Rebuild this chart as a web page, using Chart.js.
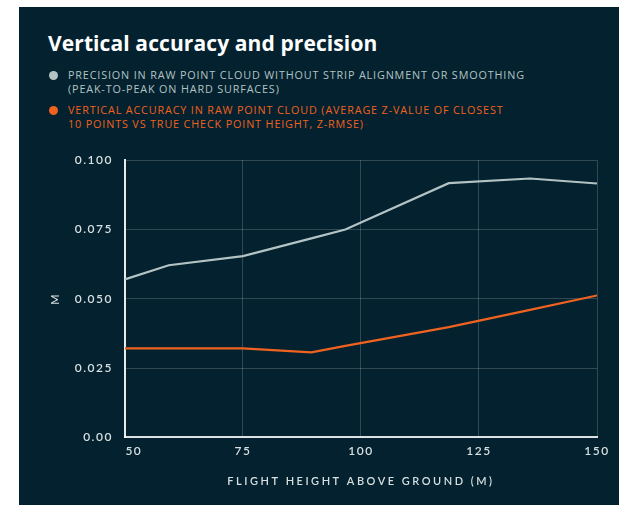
<!DOCTYPE html>
<html>
<head>
<meta charset="utf-8">
<script src="https://cdn.jsdelivr.net/npm/chart.js@4"></script>
<style>
  html, body { margin: 0; padding: 0; background: #fff; }
  #panel { position: absolute; left: 19px; top: 7px; width: 600px; height: 498px; background: #03212e; font-family: "Open Sans", Lato, sans-serif; }
  h1 { position: absolute; left: 29px; top: 22px; margin: 0; font-size: 21px; font-weight: 700; color: #fff; letter-spacing: 0.1px; }
  #legend { position: absolute; left: 30px; top: 61px; }
  .item { position: relative; padding-left: 19px; font-size: 10.8px; line-height: 14px; text-transform: uppercase; margin-bottom: 7px; width: 560px; letter-spacing: 0.85px; }
  .dot { position: absolute; left: 0; top: 3px; width: 9px; height: 9px; border-radius: 50%; }
  #wrap { position: absolute; left: 0; top: 134px; width: 600px; height: 364px; }
</style>
</head>
<body>
<div id="panel">
  <h1>Vertical accuracy and precision</h1>
  <div id="legend"></div>
  <div id="wrap"><canvas id="chart"></canvas></div>
</div>
<script>
// flight heights (m)
const heights = [50, 59.3, 75, 89.5, 96.7, 118.6, 135.8, 150];
// precision, peak-to-peak (m)
const precision = [0.057, 0.0621, 0.0654, 0.0718, 0.075, 0.0917, 0.0934, 0.0916];
// vertical accuracy, z-rmse (m)
const accuracy = [0.0321, 0.0321, 0.0321, 0.0307, 0.0330, 0.0398, 0.0460, 0.0512];
const yTicks = [0, 0.025, 0.05, 0.075, 0.1];
const xTicks = [50, 75, 100, 125, 150];
const seriesNames = [
  ['Precision in raw point cloud without strip alignment or smoothing', '(peak-to-peak on hard surfaces)'],
  ['Vertical accuracy in raw point cloud (average z-value of closest', '10 points vs true check point height, z-RMSE)']
];
const seriesColors = ['#b3c3c4', '#f0621f'];

// legend in html, two lines per item
const legend = document.getElementById('legend');
seriesNames.forEach((lines, i) => {
  const div = document.createElement('div');
  div.className = 'item';
  div.style.color = seriesColors[i];
  div.innerHTML = '<span class="dot" style="background:' + seriesColors[i] + '"></span>' + lines.join('<br>');
  legend.appendChild(div);
});

// canvas letter spacing: ticks get a little, the x title more
const spacing = {
  id: 'spacing',
  beforeDraw(chart) {
    chart.ctx.letterSpacing = '1.5px';
    const xs = chart.scales.x;
    if (!xs._spaced) {
      xs._spaced = true;
      xs.drawTitle = function () {
        this.ctx.save();
        this.ctx.letterSpacing = '2.5px';
        Chart.Scale.prototype.drawTitle.call(this);
        this.ctx.restore();
      };
    }
  }
};

const tickFont = { family: 'Lato, sans-serif', size: 12, weight: '600' };

new Chart(document.getElementById('chart'), {
  type: 'line',
  data: {
    datasets: [
      { label: seriesNames[0].join(' '), data: heights.map((h, i) => ({ x: h, y: precision[i] })), borderColor: seriesColors[0], borderWidth: 2.2, pointRadius: 0, tension: 0 },
      { label: seriesNames[1].join(' '), data: heights.map((h, i) => ({ x: h, y: accuracy[i] })), borderColor: seriesColors[1], borderWidth: 2.2, pointRadius: 0, tension: 0 }
    ]
  },
  options: {
    responsive: true,
    maintainAspectRatio: false,
    animation: false,
    layout: { padding: { left: 26, right: 22, top: 6, bottom: 13 } },
    plugins: { legend: { display: false }, tooltip: { enabled: false } },
    scales: {
      x: {
        type: 'linear', min: 50, max: 150,
        afterBuildTicks: s => { s.ticks = xTicks.map(v => ({ value: v })); },
        grid: { color: 'rgba(255,255,255,0.18)', drawTicks: false },
        border: { color: 'rgba(255,255,255,0.85)', width: 2 },
        // first label sits just right of the axis corner
        ticks: { color: '#d7dfe0', font: tickFont, padding: 7, maxRotation: 0, callback: v => v === 50 ? '    50' : String(v) },
        title: { display: true, text: 'FLIGHT HEIGHT ABOVE GROUND (M)', color: '#d7dfe0', font: { family: 'Lato, sans-serif', size: 11, weight: '600' }, padding: { top: 9 } }
      },
      y: {
        min: 0, max: 0.1,
        afterBuildTicks: s => { s.ticks = yTicks.map(v => ({ value: v })); },
        grid: { color: 'rgba(255,255,255,0.18)', drawTicks: false },
        border: { color: 'rgba(255,255,255,0.9)', width: 2 },
        ticks: { color: '#d7dfe0', font: tickFont, padding: 12, callback: v => v === 0 ? '0.00' : v.toFixed(3) },
        title: { display: true, text: 'M', color: '#d7dfe0', font: { family: 'Lato, sans-serif', size: 11, weight: '600' }, padding: { bottom: 8 } }
      }
    }
  },
  plugins: [spacing]
});
</script>
</body>
</html>
